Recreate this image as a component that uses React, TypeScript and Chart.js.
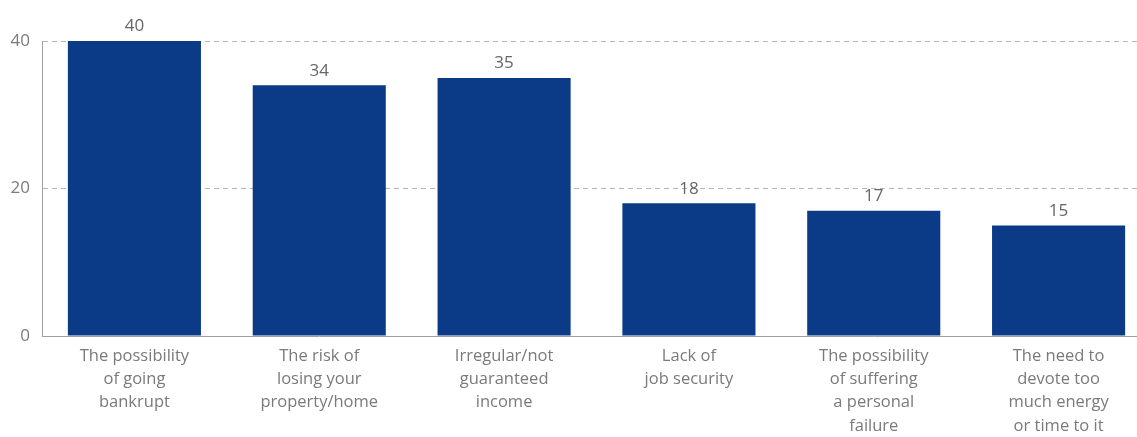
import React, { useEffect, useRef } from "react";
import { Chart, registerables } from "chart.js";

Chart.register(...registerables);

const categories: string[][] = [
  ["The possibility", "of going", "bankrupt"],
  ["The risk of", "losing your", "property/home"],
  ["Irregular/not", "guaranteed", "income"],
  ["Lack of", "job security"],
  ["The possibility", "of suffering", "a personal", "failure"],
  ["The need to", "devote too", "much energy", "or time to it"],
];
const values: number[] = [40, 34, 35, 18, 17, 15];
const yTicks: number[] = [0, 20, 40];

const FONT = "'Open Sans', 'DejaVu Sans', sans-serif";
const BAR_COLOR = "#0b3a86";
const TEXT_COLOR = "#7a7a7a";

const valueLabels = {
  id: "valueLabels",
  afterDatasetsDraw(chart: any) {
    const ctx = chart.ctx;
    const meta = chart.getDatasetMeta(0);
    ctx.save();
    ctx.font = `17px ${FONT}`;
    ctx.fillStyle = "#666666";
    ctx.textAlign = "center";
    ctx.textBaseline = "bottom";
    meta.data.forEach((bar: any, i: number) => {
      ctx.fillText(String(values[i]), bar.x, bar.y - 6);
    });
    ctx.restore();
  },
};

export default function App() {
  const ref = useRef<HTMLCanvasElement | null>(null);
  useEffect(() => {
    if (!ref.current) return;
    const chart = new Chart(ref.current, {
      type: "bar",
      data: {
        labels: categories,
        datasets: [
          {
            data: values,
            backgroundColor: BAR_COLOR,
            borderWidth: 0,
            categoryPercentage: 1,
            barPercentage: 0.72,
          },
        ],
      },
      options: {
        animation: false,
        responsive: false,
        maintainAspectRatio: false,
        layout: { padding: { top: 41, right: 9, left: 0, bottom: 0 } },
        plugins: { legend: { display: false }, tooltip: { enabled: false } },
        scales: {
          x: {
            grid: { display: false, drawTicks: false },
            border: { display: true, color: "#a0a0a0", width: 1 },
            ticks: {
              color: TEXT_COLOR,
              font: { family: FONT, size: 16.5, lineHeight: 1.4 },
              padding: 9,
              maxRotation: 0,
              autoSkip: false,
            },
            afterFit: (s: any) => {
              s.height = 101;
            },
          },
          y: {
            min: 0,
            max: 40,
            afterBuildTicks: (s: any) => {
              s.ticks = yTicks.map((v) => ({ value: v }));
            },
            grid: {
              drawTicks: false,
              color: (c: any) => (c.tick && c.tick.value === 0 ? "rgba(0,0,0,0)" : "#b5b5b5"),
              lineWidth: 1,
            },
            border: { display: true, color: "#a0a0a0", width: 1, dash: [5, 4] },
            ticks: {
              color: TEXT_COLOR,
              font: { family: FONT, size: 17 },
              padding: 12,
            },
            afterFit: (s: any) => {
              s.width = 42;
            },
          },
        },
      },
      plugins: [valueLabels],
    });
    return () => chart.destroy();
  }, []);
  return (
    <div
      style={{
        position: "fixed",
        left: 0,
        top: 0,
        width: 1137,
        height: 437,
        overflow: "hidden",
        background: "#ffffff",
      }}
    >
      <canvas ref={ref} width={1160} height={437} style={{ display: "block" }} />
    </div>
  );
}
